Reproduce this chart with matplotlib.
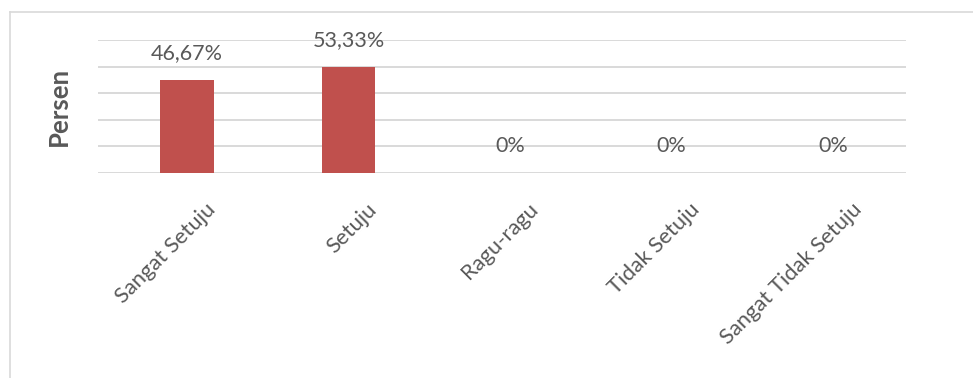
import numpy as np
import matplotlib
matplotlib.use('Agg')
import matplotlib.pyplot as plt
from matplotlib import transforms
from matplotlib.lines import Line2D

# survey answers (respondent counts out of 15)
categories = ['Sangat Setuju', 'Setuju', 'Ragu-ragu', 'Tidak Setuju', 'Sangat Tidak Setuju']
counts = [7, 8, 0, 0, 0]
total = 15
percents = [c / total * 100 for c in counts]
y_ticks = [0, 2, 4, 6, 8, 10]

BAR_COLOR = '#C0504D'
TEXT_COLOR = '#595959'
GRID_COLOR = '#D9D9D9'

plt.rcParams['font.family'] = ['Lato', 'DejaVu Sans']

W, H = 973, 378
fig = plt.figure(figsize=(W / 100, H / 100), dpi=100)

# chart area frame (only left and top edges visible in the crop)
fx0, fy1 = 9.5 / W, 1 - 11.5 / H
fig.add_artist(Line2D([fx0, fx0], [0, fy1], transform=fig.transFigure,
                      color=GRID_COLOR, lw=1.2))
fig.add_artist(Line2D([fx0, 1], [fy1, fy1], transform=fig.transFigure,
                      color=GRID_COLOR, lw=1.2))

ax = fig.add_axes([98 / W, 1 - 172.7 / H, (906 - 98) / W, (172.7 - 40) / H])

x = np.arange(len(categories))
bars = ax.bar(x, counts, width=0.33, color=BAR_COLOR, zorder=3)

ax.set_xlim(-0.55, 4.45)
ax.set_ylim(0, 10)
ax.set_yticks(y_ticks)
ax.yaxis.grid(True, color=GRID_COLOR, lw=1.4, zorder=0)
ax.tick_params(axis='y', length=0, labelleft=False)
ax.tick_params(axis='x', length=0, pad=19)
for s in ax.spines.values():
  s.set_visible(False)

ax.set_xticks(x)
ax.set_xticklabels(categories, rotation=45, ha='right', va='top',
                   rotation_mode='anchor', fontsize=15.8, color=TEXT_COLOR)
shift = transforms.ScaledTranslation(18 / 100, 0, fig.dpi_scale_trans)
for lbl in ax.get_xticklabels():
  lbl.set_transform(lbl.get_transform() + shift)

for xi, c, p in zip(x, counts, percents):
  txt = '0%' if p == 0 else f'{p:.2f}'.replace('.', ',') + '%'
  ax.annotate(txt, (xi, c), xytext=(0, 15), textcoords='offset points',
              ha='center', va='baseline', fontsize=15.5, color=TEXT_COLOR)

fig.text(59 / W, 1 - 106 / H, 'Persen', rotation=90, ha='center', va='center',
         fontsize=18.5, fontweight='bold', color=TEXT_COLOR)

fig.savefig('out.png', dpi=100, facecolor='white')
